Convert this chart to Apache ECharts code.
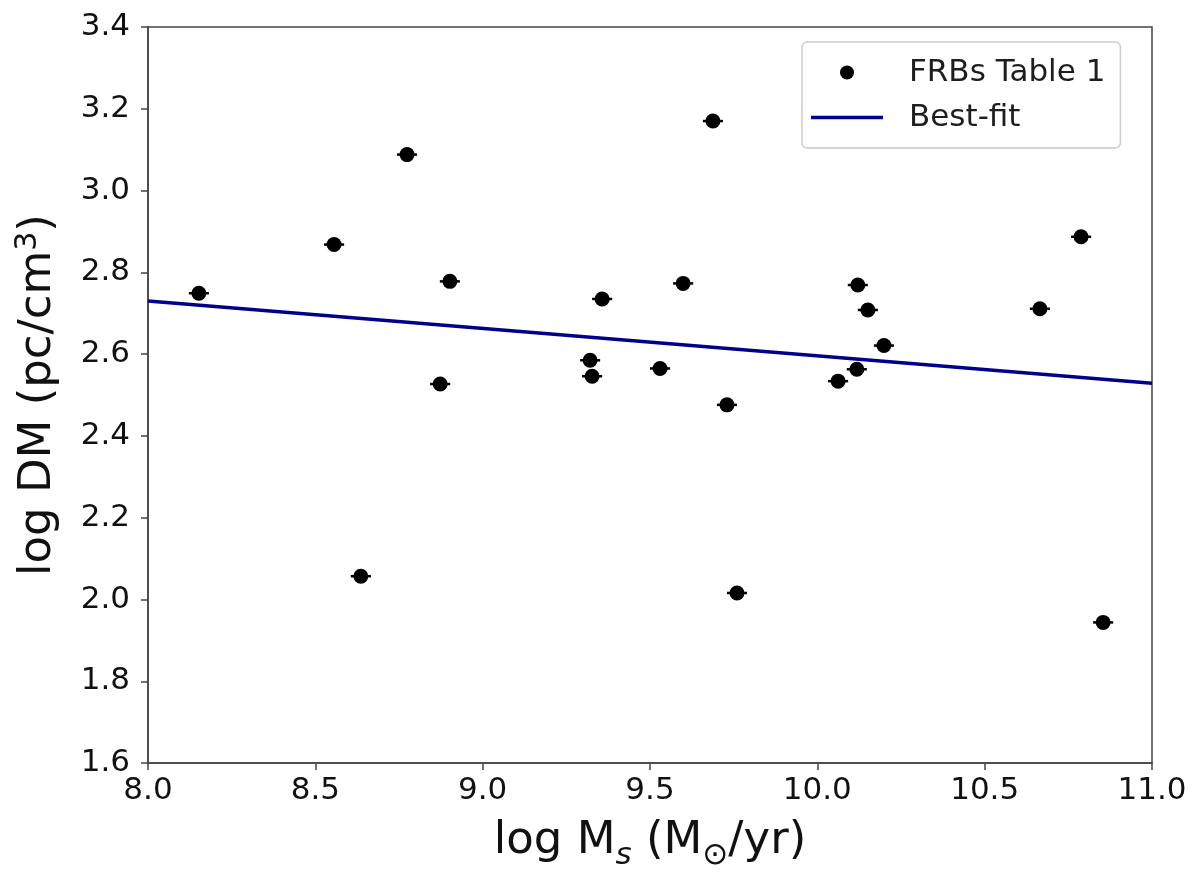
<!DOCTYPE html>
<html>
<head>
<meta charset="utf-8">
<script src="https://cdn.jsdelivr.net/npm/echarts@6/dist/echarts.min.js"></script>
<style>
  html, body { margin: 0; padding: 0; background: #fff; }
  #chart { width: 1195px; height: 876px; }
</style>
</head>
<body>
<div id="chart"></div>
<script>
// values
var logMs = [8.152, 8.636, 8.556, 8.774, 8.873, 8.902, 9.321, 9.327, 9.357, 9.530, 9.599,
             9.688, 9.730, 9.760, 10.062, 10.121, 10.118, 10.151, 10.199, 10.665, 10.788, 10.854];
var logDM = [2.749, 2.057, 2.868, 3.088, 2.527, 2.778, 2.585, 2.546, 2.735, 2.565, 2.773,
             3.170, 2.476, 2.016, 2.534, 2.769, 2.563, 2.708, 2.621, 2.711, 2.887, 1.944];
var xErr  = [0.03, 0.03, 0.03, 0.03, 0.03, 0.03, 0.03, 0.03, 0.03, 0.03, 0.03,
             0.03, 0.03, 0.03, 0.03, 0.03, 0.03, 0.03, 0.03, 0.03, 0.03, 0.03];
var fitX = [8.0, 11.0];
var fitY = [2.730, 2.529];

var FONT = 'DejaVu Sans';

var pts = [], errs = [], fit = [];
for (var i = 0; i < logMs.length; i++) {
    pts.push([logMs[i], logDM[i]]);
    errs.push([logMs[i], logDM[i], xErr[i]]);
}
for (var j = 0; j < fitX.length; j++) fit.push([fitX[j], fitY[j]]);

var chart = echarts.init(document.getElementById('chart'));

var option = {
    animation: false,
    backgroundColor: '#fff',
    grid: {
        left: 148, right: 43, top: 27, bottom: 105,
        show: true, borderColor: '#444', borderWidth: 1.5, backgroundColor: 'transparent'
    },
    legend: {
        left: 802, top: 42,
        orient: 'vertical',
        padding: [15, 15, 15, 9],
        itemWidth: 72, itemHeight: 14, itemGap: 14,
        backgroundColor: '#fff',
        borderColor: '#cccccc', borderWidth: 1.5, borderRadius: 5,
        textStyle: { fontFamily: FONT, fontSize: 31, color: '#1e1e1e', padding: [0, 0, 0, 21] },
        data: [
            { name: 'FRBs Table 1', icon: 'circle' },
            { name: 'Best-fit', icon: 'path://M0,0L72,0L72,3.5L0,3.5Z', itemStyle: { color: '#00008b' } }
        ]
    },
    xAxis: {
        type: 'value', min: 8, max: 11, interval: 0.5,
        name: 'log M{sub|s} (M{sub2|⊙}/yr)',
        nameLocation: 'middle', nameGap: 39,
        nameTextStyle: {
            fontFamily: FONT, fontSize: 45, color: '#111', lineHeight: 60,
            rich: {
                sub: { fontFamily: FONT, fontSize: 31, fontStyle: 'italic', color: '#111', verticalAlign: 'bottom', lineHeight: 30 },
                sub2: { fontFamily: FONT, fontSize: 31, color: '#111', verticalAlign: 'bottom', lineHeight: 26 }
            }
        },
        axisLine: { lineStyle: { color: '#444', width: 1.5 } },
        axisTick: { inside: false, length: 7, lineStyle: { color: '#444', width: 1.5 } },
        axisLabel: {
            margin: 12, fontFamily: FONT, fontSize: 31, color: '#111',
            formatter: function (v) { return v.toFixed(1); }
        },
        splitLine: { show: false }
    },
    yAxis: {
        type: 'value', min: 1.6, max: 3.4, interval: 0.2,
        name: 'log DM (pc/cm{sup|3})',
        nameLocation: 'middle', nameRotate: 90, nameGap: 85,
        nameTextStyle: {
            fontFamily: FONT, fontSize: 45, color: '#111', lineHeight: 50,
            rich: {
                sup: { fontFamily: FONT, fontSize: 30, color: '#111', verticalAlign: 'top', lineHeight: 30 }
            }
        },
        axisLine: { show: true, lineStyle: { color: '#444', width: 1.5 } },
        axisTick: { show: true, inside: false, length: 7, lineStyle: { color: '#444', width: 1.5 } },
        axisLabel: {
            margin: 18, fontFamily: FONT, fontSize: 31, color: '#111',
            formatter: function (v) { return v.toFixed(1); }
        },
        splitLine: { show: false }
    },
    series: [
        {
            name: 'Best-fit',
            type: 'line',
            data: fit,
            symbol: 'none',
            lineStyle: { color: '#00008b', width: 3.5 },
            itemStyle: { color: '#00008b' },
            z: 2
        },
        {
            name: 'xerr',
            type: 'custom',
            data: errs,
            renderItem: function (params, api) {
                var x = api.value(0), y = api.value(1), e = api.value(2);
                var a = api.coord([x - e, y]);
                var b = api.coord([x + e, y]);
                return {
                    type: 'line',
                    shape: { x1: a[0], y1: a[1], x2: b[0], y2: b[1] },
                    style: { stroke: '#000', lineWidth: 2.5 }
                };
            },
            z: 3
        },
        {
            name: 'FRBs Table 1',
            type: 'scatter',
            data: pts,
            symbol: 'circle',
            symbolSize: 15,
            itemStyle: { color: '#000', opacity: 1 },
            z: 4
        }
    ]
};

chart.setOption(option);
window.onresize = chart.resize;
</script>
</body>
</html>
